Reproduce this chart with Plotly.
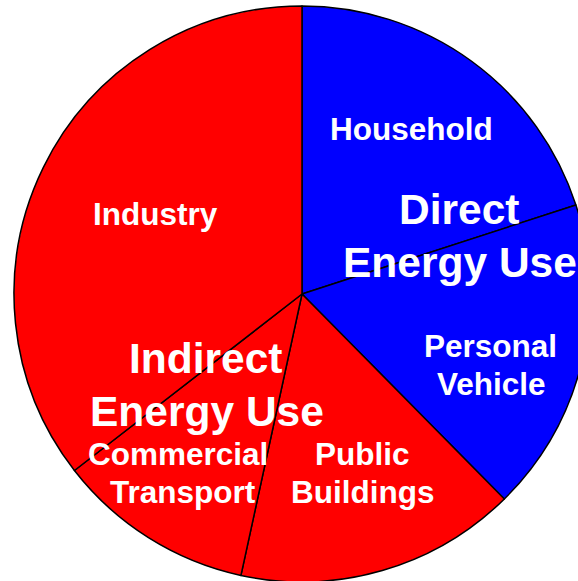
import plotly.graph_objects as go

categories = ["Household", "Personal Vehicle", "Public Buildings", "Commercial Transport", "Industry"]
shares = [20.0, 17.6, 15.8, 11.1, 35.5]
slice_colors = ["#0000FF", "#0000FF", "#FF0000", "#FF0000", "#FF0000"]

# slice label lines and their pixel centres in the reference picture
label_lines = ["Household", "Personal", "Vehicle", "Public", "Buildings",
               "Commercial", "Transport", "Industry"]
label_px = [(411, 129), (490, 346), (491, 384), (362, 454), (363, 492),
            (178, 454), (183, 492), (155, 214)]
# group label lines
group_lines = ["Direct", "Energy Use", "Indirect", "Energy Use"]
group_px = [(459, 209.5), (459.5, 263), (206, 358), (207, 411)]

W, H = 590, 582
CX, CY, R = 302, 294, 288

FONT = "Liberation Sans, Arial, Helvetica, sans-serif"

fig = go.Figure(go.Pie(
    labels=categories,
    values=shares,
    sort=False,
    direction="clockwise",
    rotation=0,
    marker=dict(colors=slice_colors, line=dict(color="black", width=1.5)),
    textinfo="none",
    hoverinfo="label+percent",
    showlegend=False,
    domain=dict(x=[(CX - R) / W, (CX + R) / W], y=[1 - (CY + R) / H, 1 - (CY - R) / H]),
))

annotations = []
for t, (px, py) in zip(label_lines, label_px):
    annotations.append(dict(text=t, x=px / W, y=1 - py / H, xref="paper", yref="paper",
                            showarrow=False, xanchor="center", yanchor="middle",
                            font=dict(family=FONT, size=31.5, color="white", weight="bold")))
for t, (px, py) in zip(group_lines, group_px):
    annotations.append(dict(text=t, x=px / W, y=1 - py / H, xref="paper", yref="paper",
                            showarrow=False, xanchor="center", yanchor="middle",
                            font=dict(family=FONT, size=42.5, color="white", weight="bold")))

fig.update_layout(
    width=W, height=H,
    margin=dict(l=0, r=0, t=0, b=0),
    paper_bgcolor="white",
    plot_bgcolor="white",
    annotations=annotations,
)

fig.write_html("out.html", config={"displayModeBar": False},
               post_script="document.body.style.margin='0';document.body.style.overflow='hidden';")
